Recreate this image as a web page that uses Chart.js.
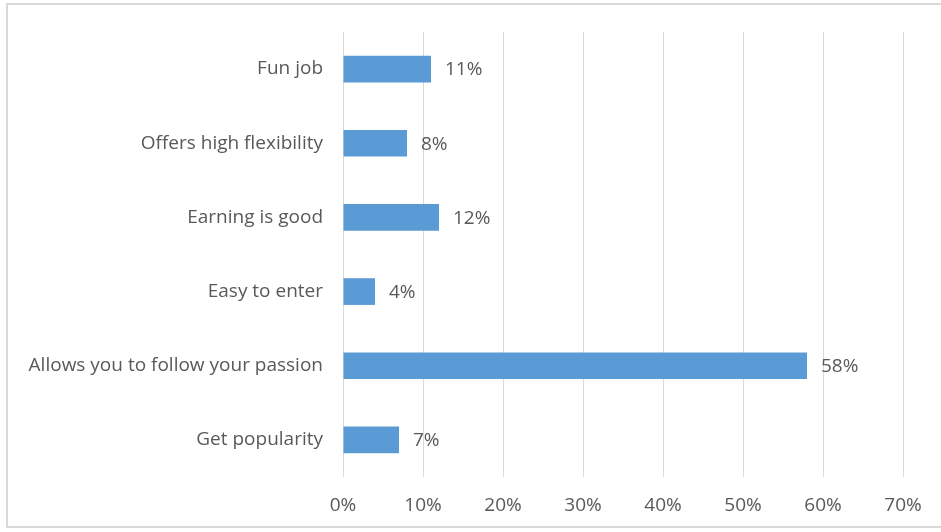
<!DOCTYPE html>
<html>
<head>
<meta charset="utf-8">
<script src="https://cdn.jsdelivr.net/npm/chart.js@4/dist/chart.umd.min.js"></script>
<style>
  html, body { margin: 0; padding: 0; background: #fff; }
  #wrap { position: relative; width: 941px; height: 532px; }
  #frame { position: absolute; left: 6px; top: 3px; width: 940px; height: 525px; border: 2px solid #d9d9d9; box-sizing: border-box; }
  canvas { position: absolute; left: 0; top: 0; }
</style>
</head>
<body>
<div id="wrap">
  <div id="frame"></div>
  <canvas id="chart" width="941" height="532"></canvas>
</div>
<script>
const categories = [
    'Fun job',
    'Offers high flexibility',
    'Earning is good',
    'Easy to enter',
    'Allows you to follow your passion',
    'Get popularity'
];
const shares = [11, 8, 12, 4, 58, 7];
const axisTicks = [0, 10, 20, 30, 40, 50, 60, 70];

const textColor = '#595959';
const fontFamily = '"Open Sans", "Noto Sans", sans-serif';

// value labels to the right of each bar
const barLabels = {
    id: 'barLabels',
    afterDatasetsDraw(chart) {
        const ctx = chart.ctx;
        const meta = chart.getDatasetMeta(0);
        ctx.save();
        ctx.fillStyle = textColor;
        ctx.font = '19px ' + fontFamily;
        ctx.textAlign = 'left';
        ctx.textBaseline = 'middle';
        meta.data.forEach((bar, i) => {
            ctx.fillText(shares[i] + '%', bar.x + 14, bar.y + 1);
        });
        ctx.restore();
    }
};

new Chart(document.getElementById('chart').getContext('2d'), {
    type: 'bar',
    data: {
        labels: categories,
        datasets: [{
            data: shares,
            backgroundColor: '#5b9bd5',
            borderWidth: 0,
            categoryPercentage: 1,
            barPercentage: 0.36
        }]
    },
    options: {
        indexAxis: 'y',
        responsive: false,
        animation: false,
        layout: { padding: { left: 0, right: 38, top: 32, bottom: 0 } },
        plugins: {
            legend: { display: false },
            tooltip: { enabled: false }
        },
        scales: {
            x: {
                min: 0,
                max: 70,
                afterBuildTicks: (scale) => { scale.ticks = axisTicks.map(v => ({ value: v })); },
                afterFit: (scale) => { scale.height = 55; },
                grid: { color: '#d9d9d9', lineWidth: 1, drawTicks: false },
                border: { display: false },
                ticks: {
                    padding: 17,
                    color: textColor,
                    font: { size: 19, family: fontFamily },
                    callback: (v) => v + '%'
                }
            },
            y: {
                afterFit: (scale) => { scale.width = 343; },
                grid: { display: false, drawTicks: false },
                border: { display: false },
                ticks: {
                    padding: 20,
                    color: textColor,
                    font: { size: 19, family: fontFamily }
                }
            }
        }
    },
    plugins: [barLabels]
});
</script>
</body>
</html>
